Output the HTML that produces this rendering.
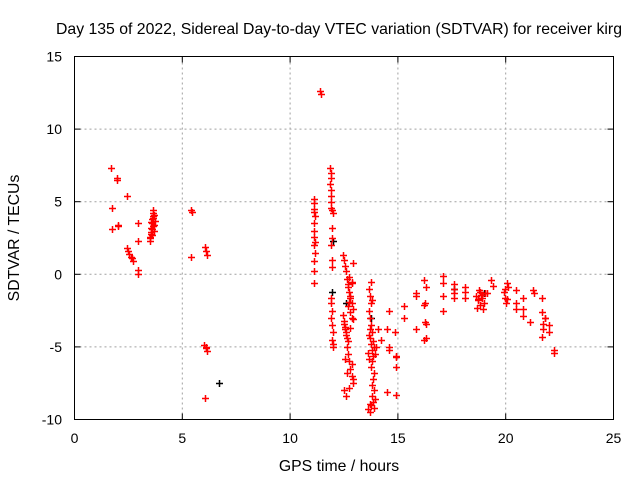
<!DOCTYPE html>
<html><head><meta charset="utf-8"><style>
body{margin:0;background:#fff;}
svg text{font-family:"Liberation Sans",sans-serif;font-size:14px;fill:#000;}
svg text.big{font-size:15.8px;}
</style></head><body>
<svg id="chart" width="640" height="480" viewBox="0 0 640 480" xmlns="http://www.w3.org/2000/svg">
<rect x="0" y="0" width="640" height="480" fill="#fff"/>
<g id="grid"></g>
<g id="marks"></g>
<rect x="74.5" y="56.5" width="539" height="363" fill="none" stroke="#000" stroke-width="1"/>
<g id="ticks"></g>
<text class="big" x="339" y="34" text-anchor="middle">Day 135 of 2022, Sidereal Day-to-day VTEC variation (SDTVAR) for receiver kirg</text>
<text class="big" x="339" y="471" text-anchor="middle">GPS time / hours</text>
<text class="big" transform="translate(19,238) rotate(-90)" text-anchor="middle">SDTVAR / TECUs</text>
</svg>
<script>
const xTicks=[0,5,10,15,20,25];
const yTicks=[15,10,5,0,-5,-10];
const redX=[1.7,1.75,1.75,1.95,1.95,2.0,2.0,2.45,2.45,2.5,2.55,2.6,2.65,2.7,2.95,2.95,2.95,2.95,
3.5,3.52,3.54,3.56,3.58,3.6,3.62,3.64,3.66,3.68,3.7,3.72,3.5,3.55,3.6,3.65,3.7,3.55,3.6,3.65,
5.4,5.45,5.4,6.05,6.1,6.15,6.0,6.1,6.15,6.05,6.1,
11.4,11.42,
11.1,11.1,11.12,11.1,11.15,11.1,11.12,11.1,11.15,11.1,11.15,11.1,11.12,11.1,
11.85,11.88,11.9,11.85,11.9,11.88,11.92,11.9,11.95,11.98,11.95,11.95,11.9,11.95,11.95,
11.9,11.92,11.95,11.9,11.95,12.0,11.95,11.98,12.0,
12.45,12.5,12.55,12.6,12.65,12.7,12.75,12.8,12.85,12.9,12.45,12.5,12.55,12.6,12.65,12.7,12.75,12.8,
12.85,12.5,12.55,12.6,12.65,12.7,12.75,12.8,12.85,12.9,12.5,12.6,12.7,12.8,12.9,12.55,12.65,12.75,
12.85,12.9,12.7,12.8,12.85,12.9,12.75,12.85,
13.65,13.7,13.75,13.65,13.7,13.75,13.8,13.7,13.75,13.8,13.85,13.8,13.75,13.9,13.85,13.8,13.9,
13.8,13.85,13.9,13.7,13.75,13.65,13.7,13.85,13.6,13.9,13.95,13.6,13.7,13.75,13.8,13.65,13.95,14.0,14.1,14.2,
14.5,14.6,14.9,14.9,14.9,14.9,14.5,14.6,14.6,14.87,
15.3,15.3,15.85,15.85,15.85,16.2,16.3,16.25,16.2,16.3,16.25,16.2,16.3,
17.08,17.08,17.08,17.08,17.6,17.6,17.6,17.6,18.1,18.1,18.1,
18.6,18.7,18.8,18.9,19.0,18.65,18.75,18.85,18.95,19.05,18.7,18.8,18.9,19.15,19.3,19.4,
19.9,19.95,20.0,20.05,20.1,19.95,20.05,20.5,20.5,20.5,20.8,20.8,20.8,21.15,21.25,21.3,
21.7,21.75,21.7,21.75,21.8,21.7,21.8,22.0,22.25,22.25,22.0,22.3,22.1];
const redY=[7.3,4.6,3.1,6.6,6.5,3.4,3.3,5.4,1.8,1.6,1.4,1.2,1.1,0.9,3.5,2.3,0.3,0.0,
2.3,2.6,2.9,3.2,3.5,3.8,4.0,4.2,4.4,3.0,3.4,3.7,2.5,2.8,3.1,3.3,4.1,3.6,2.7,3.9,
4.4,4.3,1.2,1.9,1.6,1.3,-4.9,-5.1,-5.3,-8.5,-5.0,
12.6,12.4,
5.2,4.9,4.5,4.3,4.0,3.5,3.0,2.6,2.2,2.0,1.5,0.9,0.2,-0.6,
7.3,7.0,6.6,6.2,5.8,5.4,5.0,4.6,4.4,4.2,3.2,2.5,2.0,1.0,0.5,
-1.6,-2.0,-2.5,-3.0,-3.5,-4.0,-4.5,-4.8,-5.0,
1.3,1.0,0.6,0.2,-0.3,-0.7,-1.2,-1.6,-2.0,-2.4,-2.8,-3.2,-3.6,-4.0,-4.4,-0.9,-1.9,-2.6,
-3.0,-3.4,-3.8,-4.2,-5.0,-5.5,-6.0,-6.5,-7.0,-7.5,-8.0,-8.4,-2.2,-1.5,-3.1,-5.8,-6.8,-7.8,
-0.5,0.8,-4.6,-3.7,-6.2,-7.2,
-0.2,-0.6,-1.0,-1.5,-2.0,-2.5,-3.0,-3.5,-4.0,-4.4,-4.8,-5.2,-5.6,-6.0,-6.4,-6.8,-7.2,
-7.6,-8.0,-8.4,-8.8,-9.2,-9.5,-9.0,-4.2,-3.8,-4.6,-5.4,-5.0,-8.6,-9.3,-8.9,-0.5,-1.8,-5.8,-5.5,-5.0,
-3.8,-4.5,-3.8,-5.2,-5.7,-6.4,-5.6,-8.3,-8.1,-5.0,
-2.5,-4.0,-2.2,-3.0,-3.8,-1.3,-1.5,-2.1,-3.4,-3.3,-4.5,-4.4,-2.0,
-0.4,-0.9,-1.5,-2.5,-0.1,-0.6,-1.0,-1.6,-0.7,-1.3,-1.6,
-0.9,-1.2,-1.5,-1.8,-2.1,-1.6,-2.0,-2.3,-1.1,-1.4,-2.4,-1.3,-1.7,-1.2,-1.4,-1.3,
-0.4,-0.8,-1.2,-1.6,-2.0,-0.6,-0.9,-1.0,-1.7,-2.4,-1.1,-2.0,-2.4,-1.6,-2.9,-3.3,
-1.1,-1.3,-2.6,-3.4,-4.3,-3.8,-3.0,-1.6,-3.0,-4.0,-5.2,-5.4,-3.5];
const blackX=[6.7,11.95,12.0,19.0,17.6,12.6,13.75];
const blackY=[-7.5,-1.2,2.3,-1.3,-1.0,-2.0,-3.0];
const X0=74.5,X1=613.5,Y0=419.5,Y1=56.5;
function xs(v){return X0+(v-0)/(25-0)*(X1-X0);}
function ys(v){return Y0-(v-(-10))/(15-(-10))*(Y0-Y1);}
const NS='http://www.w3.org/2000/svg';
function mk(t,a,p){const e=document.createElementNS(NS,t);for(const k in a)e.setAttribute(k,a[k]);p.appendChild(e);return e;}
const grid=document.getElementById('grid'),ticks=document.getElementById('ticks'),marks=document.getElementById('marks');
xTicks.forEach(v=>{const x=xs(v);
 if(v>0&&v<25){const g=mk('line',{x1:x,y1:Y0,x2:x,y2:Y1,stroke:'#a0a0a0','stroke-dasharray':'2,3'},grid);
 
 }
 const t1=mk('line',{x1:x,y1:Y0,x2:x,y2:Y0-6,stroke:'#000'},ticks);
 
 
 const t2=mk('line',{x1:x,y1:Y1,x2:x,y2:Y1+6,stroke:'#000'},ticks);
 
 
 const l=mk('text',{x:x,y:443,'text-anchor':'middle'},ticks);l.textContent=v;
 
 });
yTicks.forEach(v=>{const y=ys(v);
 if(v>-10&&v<15){const g=mk('line',{x1:X0,y1:y,x2:X1,y2:y,stroke:'#a0a0a0','stroke-dasharray':'2,3'},grid);
 
 }
 const t1=mk('line',{x1:X0,y1:y,x2:X0+6,y2:y,stroke:'#000'},ticks);
 
 
 const t2=mk('line',{x1:X1,y1:y,x2:X1-6,y2:y,stroke:'#000'},ticks);
 
 
 const l=mk('text',{x:62,y:y+5,'text-anchor':'end'},ticks);l.textContent=v;
 
 });
function cross(x,y,c,name){const p=mk('path',{d:`M${x-3.5},${y}H${x+3.5}M${x},${y-3.5}V${y+3.5}`,stroke:c,'stroke-width':1.5,fill:'none'},marks);
 
 }
blackX.forEach((v,i)=>cross(Math.round(xs(v))+0.5,Math.round(ys(blackY[i]))+0.5,'#000','black-point'));
redX.forEach((v,i)=>cross(Math.round(xs(v))+0.5,Math.round(ys(redY[i]))+0.5,'#ff0000','red-point'));
</script>
</body></html>
